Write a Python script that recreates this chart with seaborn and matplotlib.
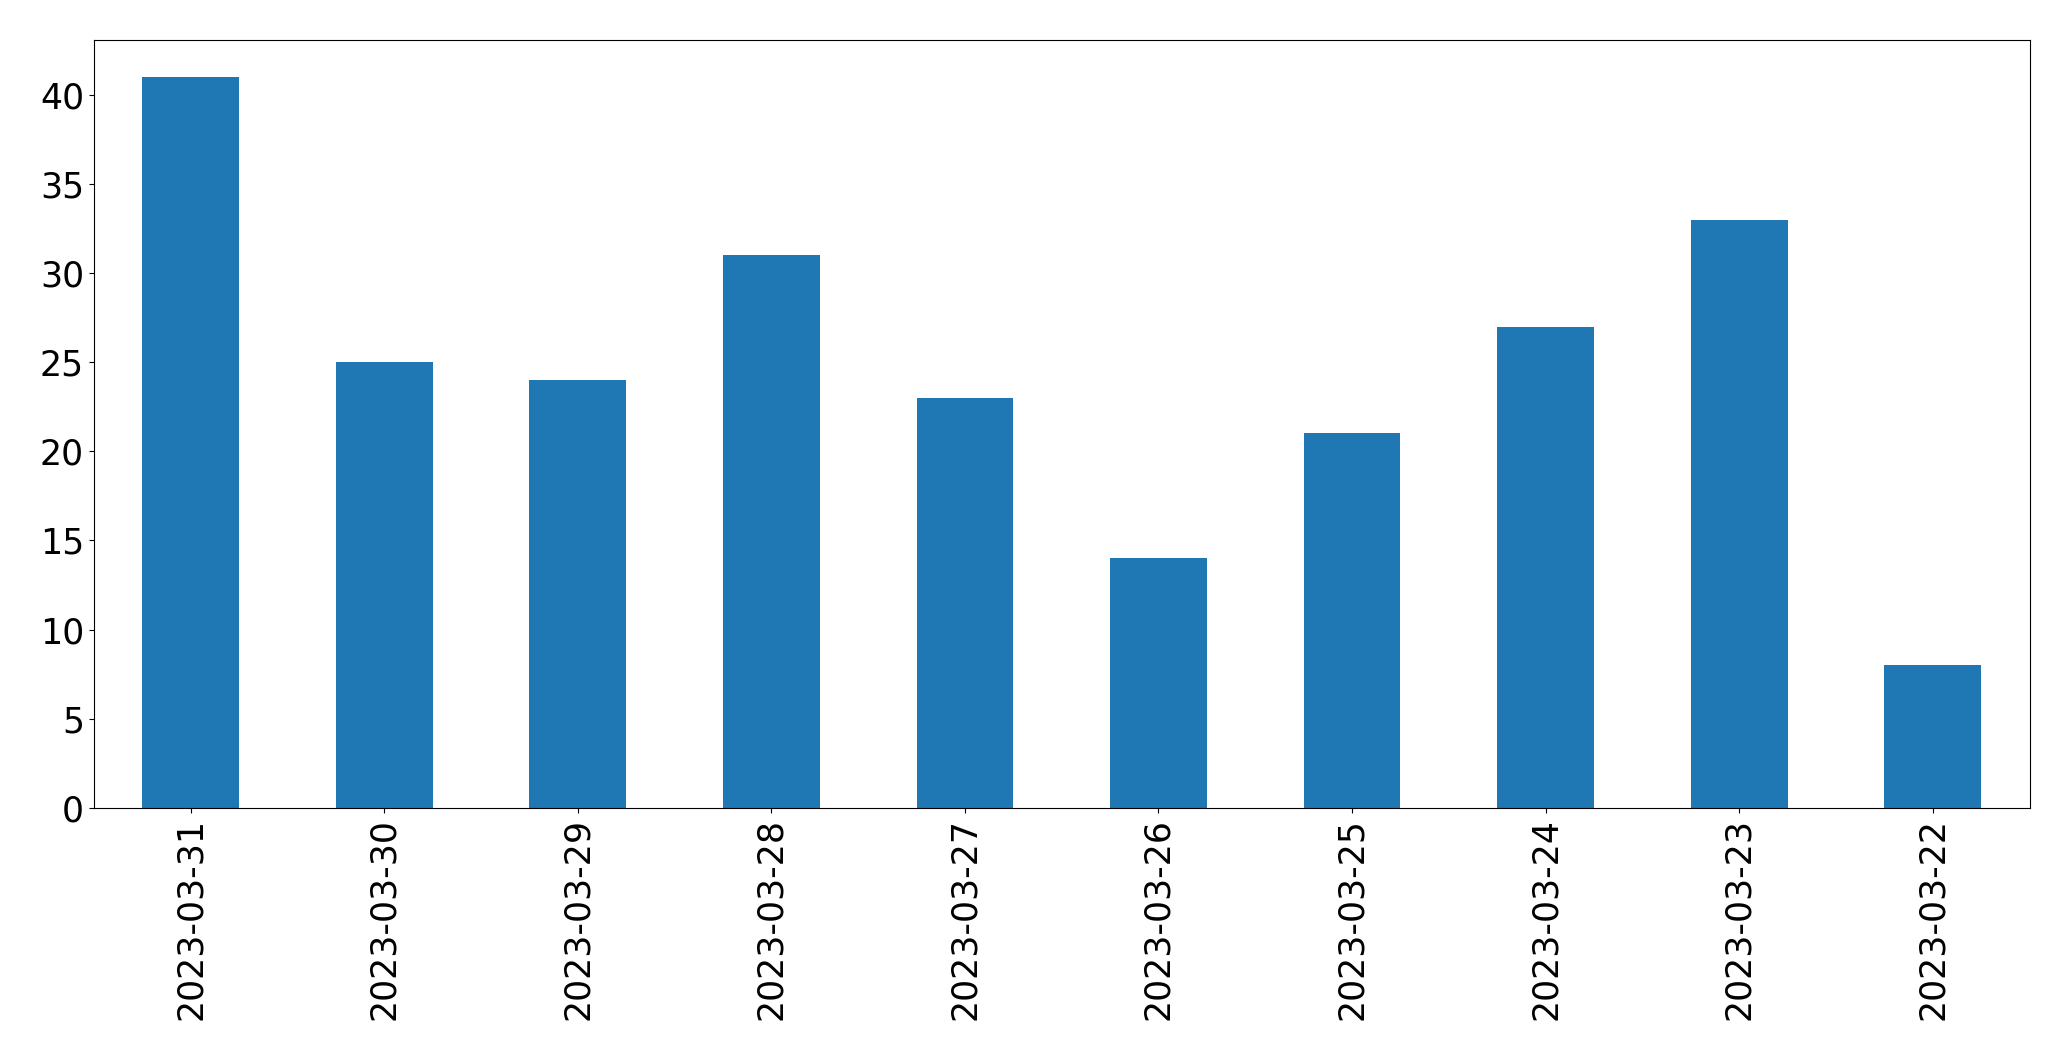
import matplotlib
matplotlib.use("Agg")
import pandas as pd
import matplotlib.pyplot as plt
import seaborn as sns

dates = ["2023-03-31", "2023-03-30", "2023-03-29", "2023-03-28", "2023-03-27",
         "2023-03-26", "2023-03-25", "2023-03-24", "2023-03-23", "2023-03-22"]
counts = [41, 25, 24, 31, 23, 14, 21, 27, 33, 8]

df = pd.DataFrame({"date": dates, "count": counts})

fig, ax = plt.subplots(figsize=(20.71, 10.61), dpi=100)
sns.barplot(data=df, x="date", y="count", order=dates, color="#1f77b4",
            saturation=1, width=0.5, ax=ax)

ax.set_xlim(-0.5, len(dates) - 0.5)
ax.set_ylim(0, max(counts) * 1.05)
ax.set_xlabel("")
ax.set_ylabel("")
ax.tick_params(axis="both", labelsize=25)
ax.tick_params(axis="x", labelrotation=90)

plt.subplots_adjust(left=0.0453, right=0.980, top=0.962, bottom=0.2385)
plt.savefig("out.png", dpi=100)
plt.close()
